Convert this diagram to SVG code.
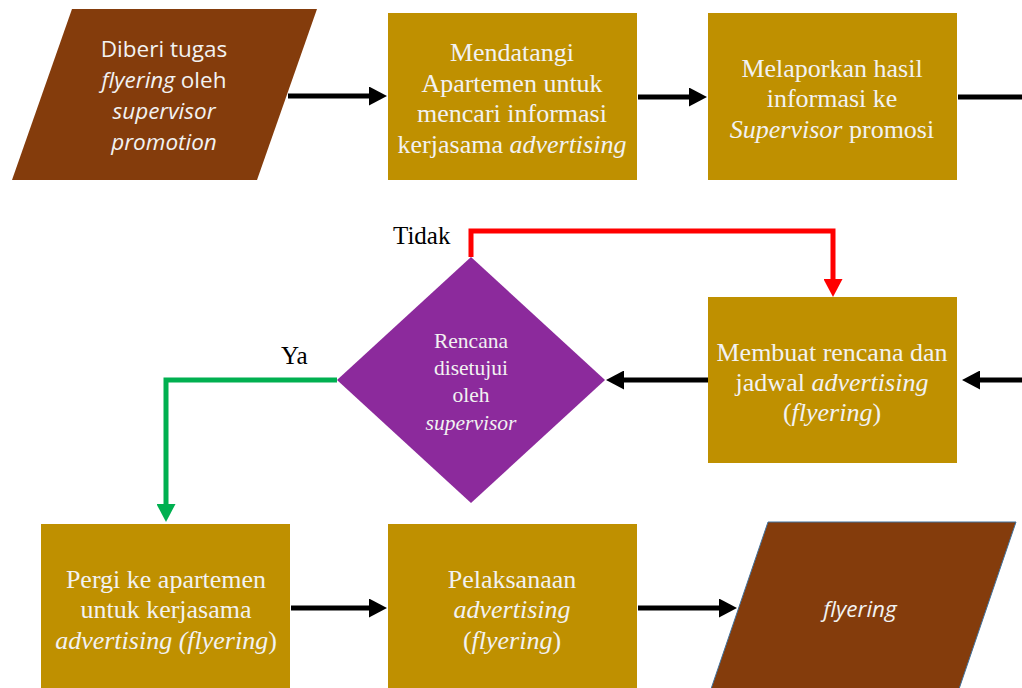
<svg xmlns="http://www.w3.org/2000/svg" width="1022" height="688" viewBox="0 0 1022 688">
<defs>
<style>
.box{fill:#BF9000;}
.io{fill:#843C0C;}
.t{font-family:"Liberation Serif","Times New Roman",serif;font-size:26px;fill:#F2F2F2;text-anchor:middle;}
.c{font-family:"Open Sans",Lato,sans-serif;font-size:22.5px;fill:#F2F2F2;text-anchor:middle;}
.d{font-family:"Liberation Serif","Times New Roman",serif;font-size:21.5px;fill:#F2F2F2;text-anchor:middle;}
.lbl{font-family:"Liberation Serif","Times New Roman",serif;font-size:25px;fill:#000;}
.i{font-style:italic;}
.k{fill:none;stroke:#000;stroke-width:5;}
</style>
<marker id="ab" markerWidth="3.6" markerHeight="3.8" refX="0" refY="1.9" orient="auto" markerUnits="strokeWidth"><path d="M0,0 L3.6,1.9 L0,3.8 z" fill="#000"/></marker>
<marker id="ar" markerWidth="3.6" markerHeight="3.8" refX="0" refY="1.9" orient="auto" markerUnits="strokeWidth"><path d="M0,0 L3.6,1.9 L0,3.8 z" fill="#FF0000"/></marker>
<marker id="ag" markerWidth="3.6" markerHeight="3.8" refX="0" refY="1.9" orient="auto" markerUnits="strokeWidth"><path d="M0,0 L3.6,1.9 L0,3.8 z" fill="#00B050"/></marker>
</defs>
<rect width="1022" height="688" fill="#fff"/>
<g id="connectors">
<path class="k" d="M288,96 L369,96" marker-end="url(#ab)"/>
<path class="k" d="M638,97 L689,97" marker-end="url(#ab)"/>
<path class="k" d="M958,97 L1022,97"/>
<path class="k" d="M1022,380 L980,380" marker-end="url(#ab)"/>
<path class="k" d="M708,380 L624,380" marker-end="url(#ab)"/>
<path d="M471,257 L471,231 L833,231 L833,279" fill="none" stroke="#FF0000" stroke-width="5" marker-end="url(#ar)"/>
<path d="M337,380 L166,380 L166,504" fill="none" stroke="#00B050" stroke-width="5" marker-end="url(#ag)"/>
<path class="k" d="M291,608 L369,608" marker-end="url(#ab)"/>
<path class="k" d="M638,608 L719,608" marker-end="url(#ab)"/>
<text class="lbl" x="393" y="244">Tidak</text>
<text class="lbl" x="281" y="364">Ya</text>
</g>
<g id="n1">
<polygon class="io" points="72,9 317,9 257,180 12,180"/>
<text class="c" x="164" y="57">Diberi tugas</text>
<text class="c" x="164" y="88"><tspan class="i">flyering</tspan> oleh</text>
<text class="c" x="164" y="119"><tspan class="i">supervisor</tspan></text>
<text class="c" x="164" y="150"><tspan class="i">promotion</tspan></text>
</g>
<g id="n2">
<rect class="box" x="388" y="13" width="249" height="167"/>
<text class="t" x="512" y="61">Mendatangi</text>
<text class="t" x="512" y="92">Apartemen untuk</text>
<text class="t" x="512" y="122">mencari informasi</text>
<text class="t" x="512" y="153">kerjasama <tspan class="i">advertising</tspan></text>
</g>
<g id="n3">
<rect class="box" x="708" y="13" width="249" height="167"/>
<text class="t" x="832" y="77">Melaporkan hasil</text>
<text class="t" x="832" y="107">informasi ke</text>
<text class="t" x="832" y="138"><tspan class="i">Supervisor</tspan> promosi</text>
</g>
<g id="n4">
<rect class="box" x="708" y="297" width="249" height="166"/>
<text class="t" x="832" y="361">Membuat rencana dan</text>
<text class="t" x="832" y="391">jadwal <tspan class="i">advertising</tspan></text>
<text class="t" x="832" y="421">(<tspan class="i">flyering</tspan>)</text>
</g>
<g id="n5">
<polygon points="471,257 605,380 471,503 337,380" fill="#8C2A9C"/>
<text class="d" x="471" y="348">Rencana</text>
<text class="d" x="471" y="375">disetujui</text>
<text class="d" x="471" y="402">oleh</text>
<text class="d i" x="471" y="430">supervisor</text>
</g>
<g id="n6">
<rect class="box" x="41" y="524" width="249" height="170"/>
<text class="t" x="166" y="588">Pergi ke apartemen</text>
<text class="t" x="166" y="618">untuk kerjasama</text>
<text class="t" x="166" y="649"><tspan class="i">advertising (flyering</tspan>)</text>
</g>
<g id="n7">
<rect class="box" x="388" y="524" width="249" height="170"/>
<text class="t" x="512" y="588">Pelaksanaan</text>
<text class="t" x="512" y="618"><tspan class="i">advertising</tspan></text>
<text class="t" x="512" y="649">(<tspan class="i">flyering</tspan>)</text>
</g>
<g id="n8">
<polygon class="io" points="768,522 1016,522 958,692 710,692" stroke="#41719C" stroke-width="1"/>
<text class="c i" x="860" y="617">flyering</text>
</g>
</svg>
